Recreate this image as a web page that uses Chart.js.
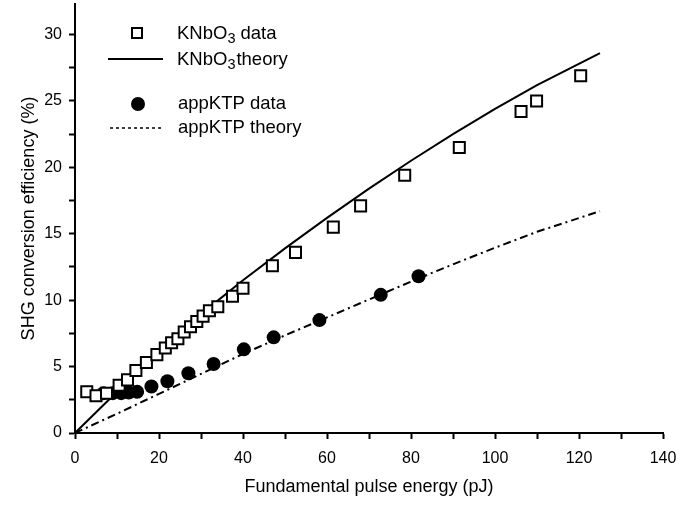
<!DOCTYPE html>
<html>
<head>
<meta charset="utf-8">
<script src="https://cdn.jsdelivr.net/npm/chart.js@4.4.0/dist/chart.umd.min.js"></script>
<style>
  html, body { margin: 0; padding: 0; background: #fff; }
</style>
</head>
<body>
<canvas id="shgChart" width="676" height="508"></canvas>
<script>
// KNbO3 measured points
const knbX = [2.8, 5, 7.5, 10.5, 12.5, 14.5, 17, 19.5, 21.5, 23, 24.5, 26, 27.5, 29, 30.5, 32, 34, 37.5, 40, 47, 52.5, 61.5, 68, 78.5, 91.5, 106.2, 109.9, 120.4];
const knbY = [3.1, 2.8, 3.0, 3.6, 4.0, 4.7, 5.3, 5.9, 6.4, 6.8, 7.1, 7.6, 8.0, 8.4, 8.8, 9.2, 9.5, 10.3, 10.9, 12.6, 13.6, 15.5, 17.1, 19.4, 21.5, 24.2, 25.0, 26.9];

// appKTP measured points
const ktpX = [6.8, 9, 11, 12.8, 14.8, 18.2, 22, 27, 33, 40.2, 47.3, 58.2, 72.8, 81.8];
const ktpY = [3.0, 3.0, 3.0, 3.05, 3.1, 3.5, 3.9, 4.5, 5.2, 6.3, 7.2, 8.5, 10.4, 11.8];

// theory curves
const theoryX = [0, 10, 20, 30, 40, 50, 60, 70, 80, 90, 100, 110, 125];
const knbTheory = [0, 3.1, 6.1, 8.95, 11.5, 13.9, 16.2, 18.4, 20.5, 22.5, 24.4, 26.2, 28.6];
const ktpTheory = [0, 1.45, 2.95, 4.45, 5.95, 7.35, 8.7, 10.05, 11.4, 12.7, 13.95, 15.15, 16.7];

function toPoints(xs, ys) {
    return xs.map((x, i) => ({ x: x, y: ys[i] }));
}

const FONT = "'Liberation Sans', Arial, sans-serif";

// legend drawn by hand so the subscript 3 can be shown
const legendPlugin = {
    id: 'handLegend',
    afterDraw(chart) {
        const ctx = chart.ctx;
        ctx.save();
        ctx.fillStyle = '#000';
        ctx.strokeStyle = '#000';
        ctx.textBaseline = 'alphabetic';

        function subText(x, y, before, sub, after, gap) {
            ctx.font = '18.5px ' + FONT;
            ctx.fillText(before, x, y);
            x += ctx.measureText(before).width;
            ctx.font = '14.5px ' + FONT;
            ctx.fillText(sub, x, y + 4);
            x += ctx.measureText(sub).width + gap;
            ctx.font = '18.5px ' + FONT;
            ctx.fillText(after, x, y);
        }

        // KNbO3 data
        ctx.lineWidth = 2;
        ctx.fillStyle = '#fff';
        ctx.fillRect(132, 28, 10, 10);
        ctx.strokeRect(132, 28, 10, 10);
        ctx.fillStyle = '#000';
        subText(177, 39, 'KNbO', '3', 'data', 5);

        // KNbO3 theory
        ctx.beginPath();
        ctx.moveTo(108, 59);
        ctx.lineTo(163, 59);
        ctx.stroke();
        subText(177, 65, 'KNbO', '3', 'theory', 1);

        // appKTP data
        ctx.beginPath();
        ctx.arc(138, 104, 7, 0, Math.PI * 2);
        ctx.fill();
        ctx.font = '18.5px ' + FONT;
        ctx.fillText('appKTP data', 178, 109);

        // appKTP theory
        ctx.setLineDash([3, 3]);
        ctx.lineWidth = 1.5;
        ctx.beginPath();
        ctx.moveTo(110, 128);
        ctx.lineTo(163, 128);
        ctx.stroke();
        ctx.setLineDash([]);
        ctx.fillText('appKTP theory', 178, 133);

        ctx.restore();
    }
};

const ctx = document.getElementById('shgChart').getContext('2d');
const shgChart = new Chart(ctx, {
    type: 'scatter',
    data: {
        datasets: [
            {
                label: 'KNbO3 theory',
                data: toPoints(theoryX, knbTheory),
                showLine: true,
                borderColor: '#000',
                borderWidth: 2,
                pointRadius: 0,
                order: 3
            },
            {
                label: 'appKTP theory',
                data: toPoints(theoryX, ktpTheory),
                showLine: true,
                borderColor: '#000',
                borderWidth: 2,
                borderDash: [8, 4, 2, 4],
                pointRadius: 0,
                order: 4
            },
            {
                label: 'appKTP data',
                data: toPoints(ktpX, ktpY),
                pointStyle: 'circle',
                pointRadius: 7,
                backgroundColor: '#000',
                borderColor: '#000',
                borderWidth: 0,
                order: 2
            },
            {
                label: 'KNbO3 data',
                data: toPoints(knbX, knbY),
                pointStyle: 'rect',
                pointRadius: 7.8,
                backgroundColor: '#fff',
                borderColor: '#000',
                borderWidth: 2,
                order: 1
            }
        ]
    },
    options: {
        responsive: false,
        animation: false,
        devicePixelRatio: 1,
        layout: {
            autoPadding: false,
            padding: { top: 4, right: 13, left: 0, bottom: 0 }
        },
        plugins: {
            legend: { display: false },
            tooltip: { enabled: false }
        },
        scales: {
            x: {
                type: 'linear',
                min: 0,
                max: 140,
                ticks: {
                    stepSize: 10,
                    autoSkip: false,
                    maxRotation: 0,
                    color: '#000',
                    font: { family: FONT, size: 16 },
                    padding: 10,
                    callback: v => (v % 20 === 0 ? v : '')
                },
                grid: {
                    drawOnChartArea: false,
                    tickLength: 6,
                    tickColor: '#000',
                    tickWidth: 2
                },
                border: { color: '#000', width: 2 },
                title: {
                    display: true,
                    text: 'Fundamental pulse energy (pJ)',
                    color: '#000',
                    font: { family: FONT, size: 18 },
                    padding: { top: 0, bottom: 10 }
                },
                afterFit: scale => {
                    scale.height = 75;
                    scale.paddingLeft = 0;
                    scale.paddingRight = 0;
                }
            },
            y: {
                type: 'linear',
                min: 0,
                max: 32.3,
                ticks: {
                    stepSize: 2.5,
                    autoSkip: false,
                    color: '#000',
                    font: { family: FONT, size: 16 },
                    padding: 7,
                    callback: v => (v % 5 === 0 ? v : '')
                },
                afterBuildTicks: scale => {
                    scale.ticks = scale.ticks.filter(t => t.value <= 30 && (t.value * 2) % 5 === 0);
                },
                grid: {
                    drawOnChartArea: false,
                    tickLength: 6,
                    tickColor: '#000',
                    tickWidth: 2
                },
                border: { color: '#000', width: 2 },
                title: {
                    display: true,
                    text: 'SHG conversion efficiency (%)',
                    color: '#000',
                    font: { family: FONT, size: 18 },
                    padding: { top: 18, bottom: 0 }
                },
                afterFit: scale => {
                    scale.width = 75;
                    scale.paddingTop = 0;
                    scale.paddingBottom = 0;
                }
            }
        }
    },
    plugins: [legendPlugin]
});
</script>
</body>
</html>
